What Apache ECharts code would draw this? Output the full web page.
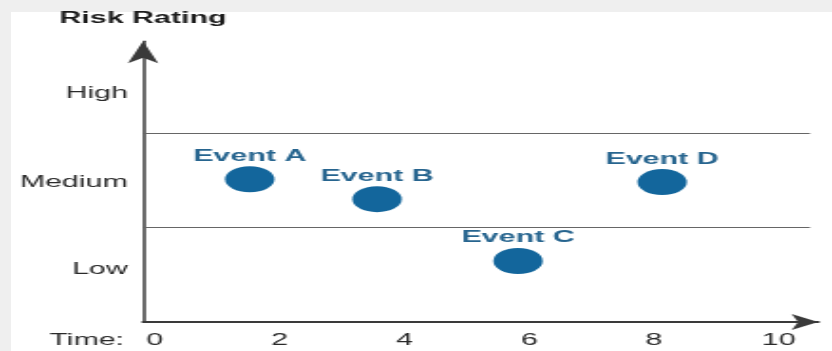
<!DOCTYPE html>
<html>
<head>
<meta charset="utf-8">
<script src="https://cdn.jsdelivr.net/npm/echarts@6/dist/echarts.min.js"></script>
<style>
  html, body { margin: 0; padding: 0; background: #efefef; overflow: hidden; }
  #paper { position: absolute; left: 11px; top: 12px; width: 821px; height: 339px; background: #fff; }
  /* the reference picture is stretched sideways, so draw narrow and scale */
  #chart { position: absolute; left: 0; top: 0; width: 438px; height: 351px;
           transform: scaleX(1.8995); transform-origin: 0 0; }
</style>
</head>
<body>
<div id="paper"></div>
<div id="chart"></div>
<script>
const timeTicks = [0, 2, 4, 6, 8, 10];
const riskLevels = ['Low', 'Medium', 'High'];
const riskLevelPos = [0.55, 1.48, 2.42];
const riskBands = [1, 2];
const eventNames = ['Event A', 'Event B', 'Event C', 'Event D'];
const eventTime = [1.52, 3.56, 5.82, 8.13];
const eventRisk = [1.51, 1.30, 0.645, 1.48];

const xMin = -0.19, xMax = 10.63, bandEnd = 10.5;
const font = '"Liberation Sans", Arial, Helvetica, sans-serif';

const chart = echarts.init(document.getElementById('chart'));
const option = {
  animation: false,
  grid: { left: 75.3, right: 7.3, top: 41.3, bottom: 29, outerBoundsMode: 'none' },
  xAxis: {
    type: 'value',
    min: xMin,
    max: xMax,
    name: 'Time:',
    nameLocation: 'start',
    nameGap: 10,
    nameTextStyle: { color: '#2a2a2a', fontSize: 16, fontFamily: font, verticalAlign: 'top', lineHeight: 38 },
    axisLine: { onZero: false, symbol: ['none', 'arrow'], symbolSize: [12, 14], lineStyle: { color: '#3a3a3a', width: 2 } },
    axisTick: { show: false },
    splitLine: { show: false },
    axisLabel: { customValues: timeTicks, color: '#2a2a2a', fontSize: 16, fontFamily: font, margin: 11 }
  },
  yAxis: {
    type: 'value',
    min: 0,
    max: 2.97,
    name: 'Risk Rating',
    nameLocation: 'end',
    nameGap: 15,
    nameTextStyle: { color: '#1a1a1a', fontSize: 16, fontWeight: 'bold', fontFamily: font },
    axisLine: { onZero: false, symbol: ['none', 'arrow'], symbolSize: [12, 22], lineStyle: { color: '#3a3a3a', width: 1.5 } },
    axisTick: { show: false },
    splitLine: { show: false },
    axisLabel: {
      customValues: riskLevelPos,
      color: '#2a2a2a', fontSize: 16, fontFamily: font, margin: 8,
      formatter: function (v) {
        let best = 0;
        riskLevelPos.forEach(function (p, i) { if (Math.abs(p - v) < Math.abs(riskLevelPos[best] - v)) best = i; });
        return riskLevels[best];
      }
    }
  },
  series: [{
    type: 'scatter',
    symbol: 'circle',
    symbolSize: 26,
    itemStyle: { color: '#13669c', opacity: 1 },
    label: {
      show: true,
      position: 'top',
      distance: 2,
      formatter: function (p) { return p.name; },
      color: '#27658f', fontSize: 16, fontWeight: 'bold', fontFamily: font
    },
    data: eventNames.map(function (n, i) { return { name: n, value: [eventTime[i], eventRisk[i]] }; }),
    markLine: {
      silent: true,
      symbol: 'none',
      label: { show: false },
      lineStyle: { color: '#666', width: 1, type: 'solid', opacity: 1 },
      data: riskBands.map(function (b) { return [{ coord: [xMin, b] }, { coord: [bandEnd, b] }]; })
    }
  }]
};
chart.setOption(option);
</script>
</body>
</html>
